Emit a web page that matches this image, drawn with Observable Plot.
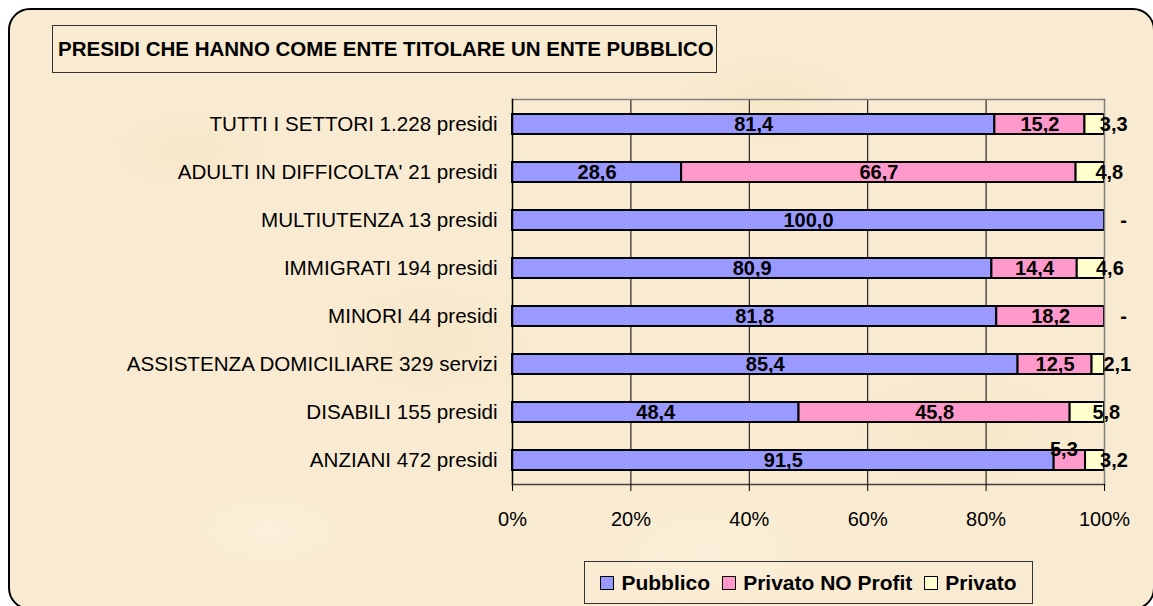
<!DOCTYPE html>
<html>
<head>
<meta charset="utf-8">
<script src="https://cdn.jsdelivr.net/npm/d3@7"></script>
<script src="https://cdn.jsdelivr.net/npm/@observablehq/plot@0.6"></script>
<style>
  html, body { margin: 0; padding: 0; background: #ffffff; }
  #wrap { position: relative; width: 1153px; height: 606px; overflow: hidden; font-family: "Liberation Sans", Arial, sans-serif; }
  #bg {
    position: absolute; left: 8px; top: 8px; width: 1147px; height: 602px;
    box-sizing: border-box; border: 2px solid #000; border-radius: 22px;
    background-color: #F9EBD1;
    background-image:
      radial-gradient(ellipse 120px 60px at 180px 140px, rgba(235,210,165,0.18), rgba(235,210,165,0) 70%),
      radial-gradient(ellipse 160px 80px at 420px 330px, rgba(235,210,165,0.18), rgba(235,210,165,0) 70%),
      radial-gradient(ellipse 140px 70px at 760px 90px, rgba(235,210,165,0.18), rgba(235,210,165,0) 70%),
      radial-gradient(ellipse 180px 90px at 950px 420px, rgba(235,210,165,0.18), rgba(235,210,165,0) 70%),
      radial-gradient(ellipse 150px 70px at 260px 520px, rgba(255,250,235,0.35), rgba(255,250,235,0) 70%),
      radial-gradient(ellipse 200px 90px at 700px 540px, rgba(255,250,235,0.3), rgba(255,250,235,0) 70%);
  }
  #title {
    position: absolute; left: 52px; top: 25px; width: 665px; height: 48px;
    box-sizing: border-box; border: 1px solid #333;
    font-weight: bold; font-size: 20.5px; line-height: 46px; padding-left: 5px;
    white-space: nowrap; color: #000;
  }
  #legend {
    position: absolute; left: 584px; top: 561px; width: 449px; height: 43px;
    box-sizing: border-box; border: 1px solid #333;
    display: flex; align-items: center; justify-content: center;
    font-weight: bold; font-size: 21px; color: #000; white-space: nowrap;
  }
  .sw { display: inline-block; width: 12px; height: 12px; border: 1px solid #000; margin-right: 7px; }
  .item { display: inline-flex; align-items: center; margin: 0 6px; }
  #chart { position: absolute; left: 0; top: 0; }
</style>
</head>
<body>
<div id="wrap">
  <div id="bg"></div>
  <div id="title"></div>
  <div id="chart"></div>
  <div id="legend"></div>
</div>
<script>
const titleText = "PRESIDI CHE HANNO COME ENTE TITOLARE UN ENTE PUBBLICO";
const categories = [
  "TUTTI I SETTORI 1.228 presidi",
  "ADULTI IN DIFFICOLTA' 21 presidi",
  "MULTIUTENZA 13 presidi",
  "IMMIGRATI 194 presidi",
  "MINORI 44 presidi",
  "ASSISTENZA DOMICILIARE 329 servizi",
  "DISABILI 155 presidi",
  "ANZIANI 472 presidi"
];
const seriesNames = ["Pubblico", "Privato NO Profit", "Privato"];
const seriesColors = ["#9999FF", "#FF99CC", "#FFFFCC"];
const pubblico =        [81.4, 28.6, 100.0, 80.9, 81.8, 85.4, 48.4, 91.5];
const privatoNoProfit = [15.2, 66.7,   0.0, 14.4, 18.2, 12.5, 45.8,  5.3];
const privato =         [ 3.3,  4.8,   0.0,  4.6,  0.0,  2.1,  5.8,  3.2];
const xTicks = [0, 0.2, 0.4, 0.6, 0.8, 1];

const seriesValues = [pubblico, privatoNoProfit, privato];
const data = categories.flatMap((c, i) =>
  seriesNames.map((s, j) => ({cat: c, series: s, value: seriesValues[j][i]})));

const fmt = v => v.toFixed(1).replace(".", ",");
const isSmallPink = d => d.series === "Privato NO Profit" && d.value > 0 && d.value < 6;

document.getElementById("title").textContent = titleText;

const stackOpts = {x: "value", y: "cat", offset: "normalize"};

const chart = Plot.plot({
  width: 1153,
  height: 606,
  marginLeft: 512,
  marginRight: 49,
  marginTop: 99,
  marginBottom: 122,
  style: {background: "transparent", color: "#000", fontFamily: "'Liberation Sans', Arial, sans-serif", fontSize: "20px", overflow: "visible"},
  x: {domain: [0, 1], label: null},
  y: {domain: categories, paddingInner: 0.59, paddingOuter: 0.295, label: null},
  color: {domain: seriesNames, range: seriesColors},
  marks: [
    Plot.gridX(xTicks.slice(1, -1), {stroke: "#000", strokeOpacity: 1, strokeWidth: 1}),
    Plot.barX(data, Plot.stackX({...stackOpts, fill: "series", stroke: "#000", strokeWidth: 2})),
    Plot.frame({anchor: "top", stroke: "#808080", strokeWidth: 1.5}),
    Plot.frame({anchor: "right", stroke: "#808080", strokeWidth: 1.5}),
    Plot.frame({anchor: "left", stroke: "#000", strokeWidth: 1.5}),
    Plot.frame({anchor: "bottom", stroke: "#404040", strokeWidth: 1.5}),
    Plot.axisX({ticks: xTicks, tickFormat: d3.format(".0%"), tickSize: 7, tickPadding: 20, fontSize: 20, stroke: "#000"}),
    Plot.axisY({tickSize: 0, tickPadding: 15, fontSize: 20.6}),
    Plot.text(data, Plot.stackX({...stackOpts,
      text: d => (d.series !== "Privato" && d.value > 0 && !isSmallPink(d)) ? fmt(d.value) : "",
      fontWeight: "bold", fontSize: 20, fill: "#000"})),
    Plot.text(data, Plot.stackX({...stackOpts,
      text: d => isSmallPink(d) ? fmt(d.value) : "",
      dx: -6, dy: -11, fontWeight: "bold", fontSize: 20, fill: "#000"})),
    Plot.text(data, Plot.stackX({...stackOpts,
      text: d => d.series === "Privato" ? (d.value > 0 ? fmt(d.value) : "-") : "",
      dx: 19, fontWeight: "bold", fontSize: 20, fill: "#000"}))
  ]
});
document.getElementById("chart").appendChild(chart);

const legend = document.getElementById("legend");
seriesNames.forEach((s, i) => {
  const item = document.createElement("span");
  item.className = "item";
  const sw = document.createElement("span");
  sw.className = "sw";
  sw.style.background = seriesColors[i];
  const t = document.createElement("span");
  t.textContent = s;
  item.appendChild(sw);
  item.appendChild(t);
  legend.appendChild(item);
});
</script>
</body>
</html>
